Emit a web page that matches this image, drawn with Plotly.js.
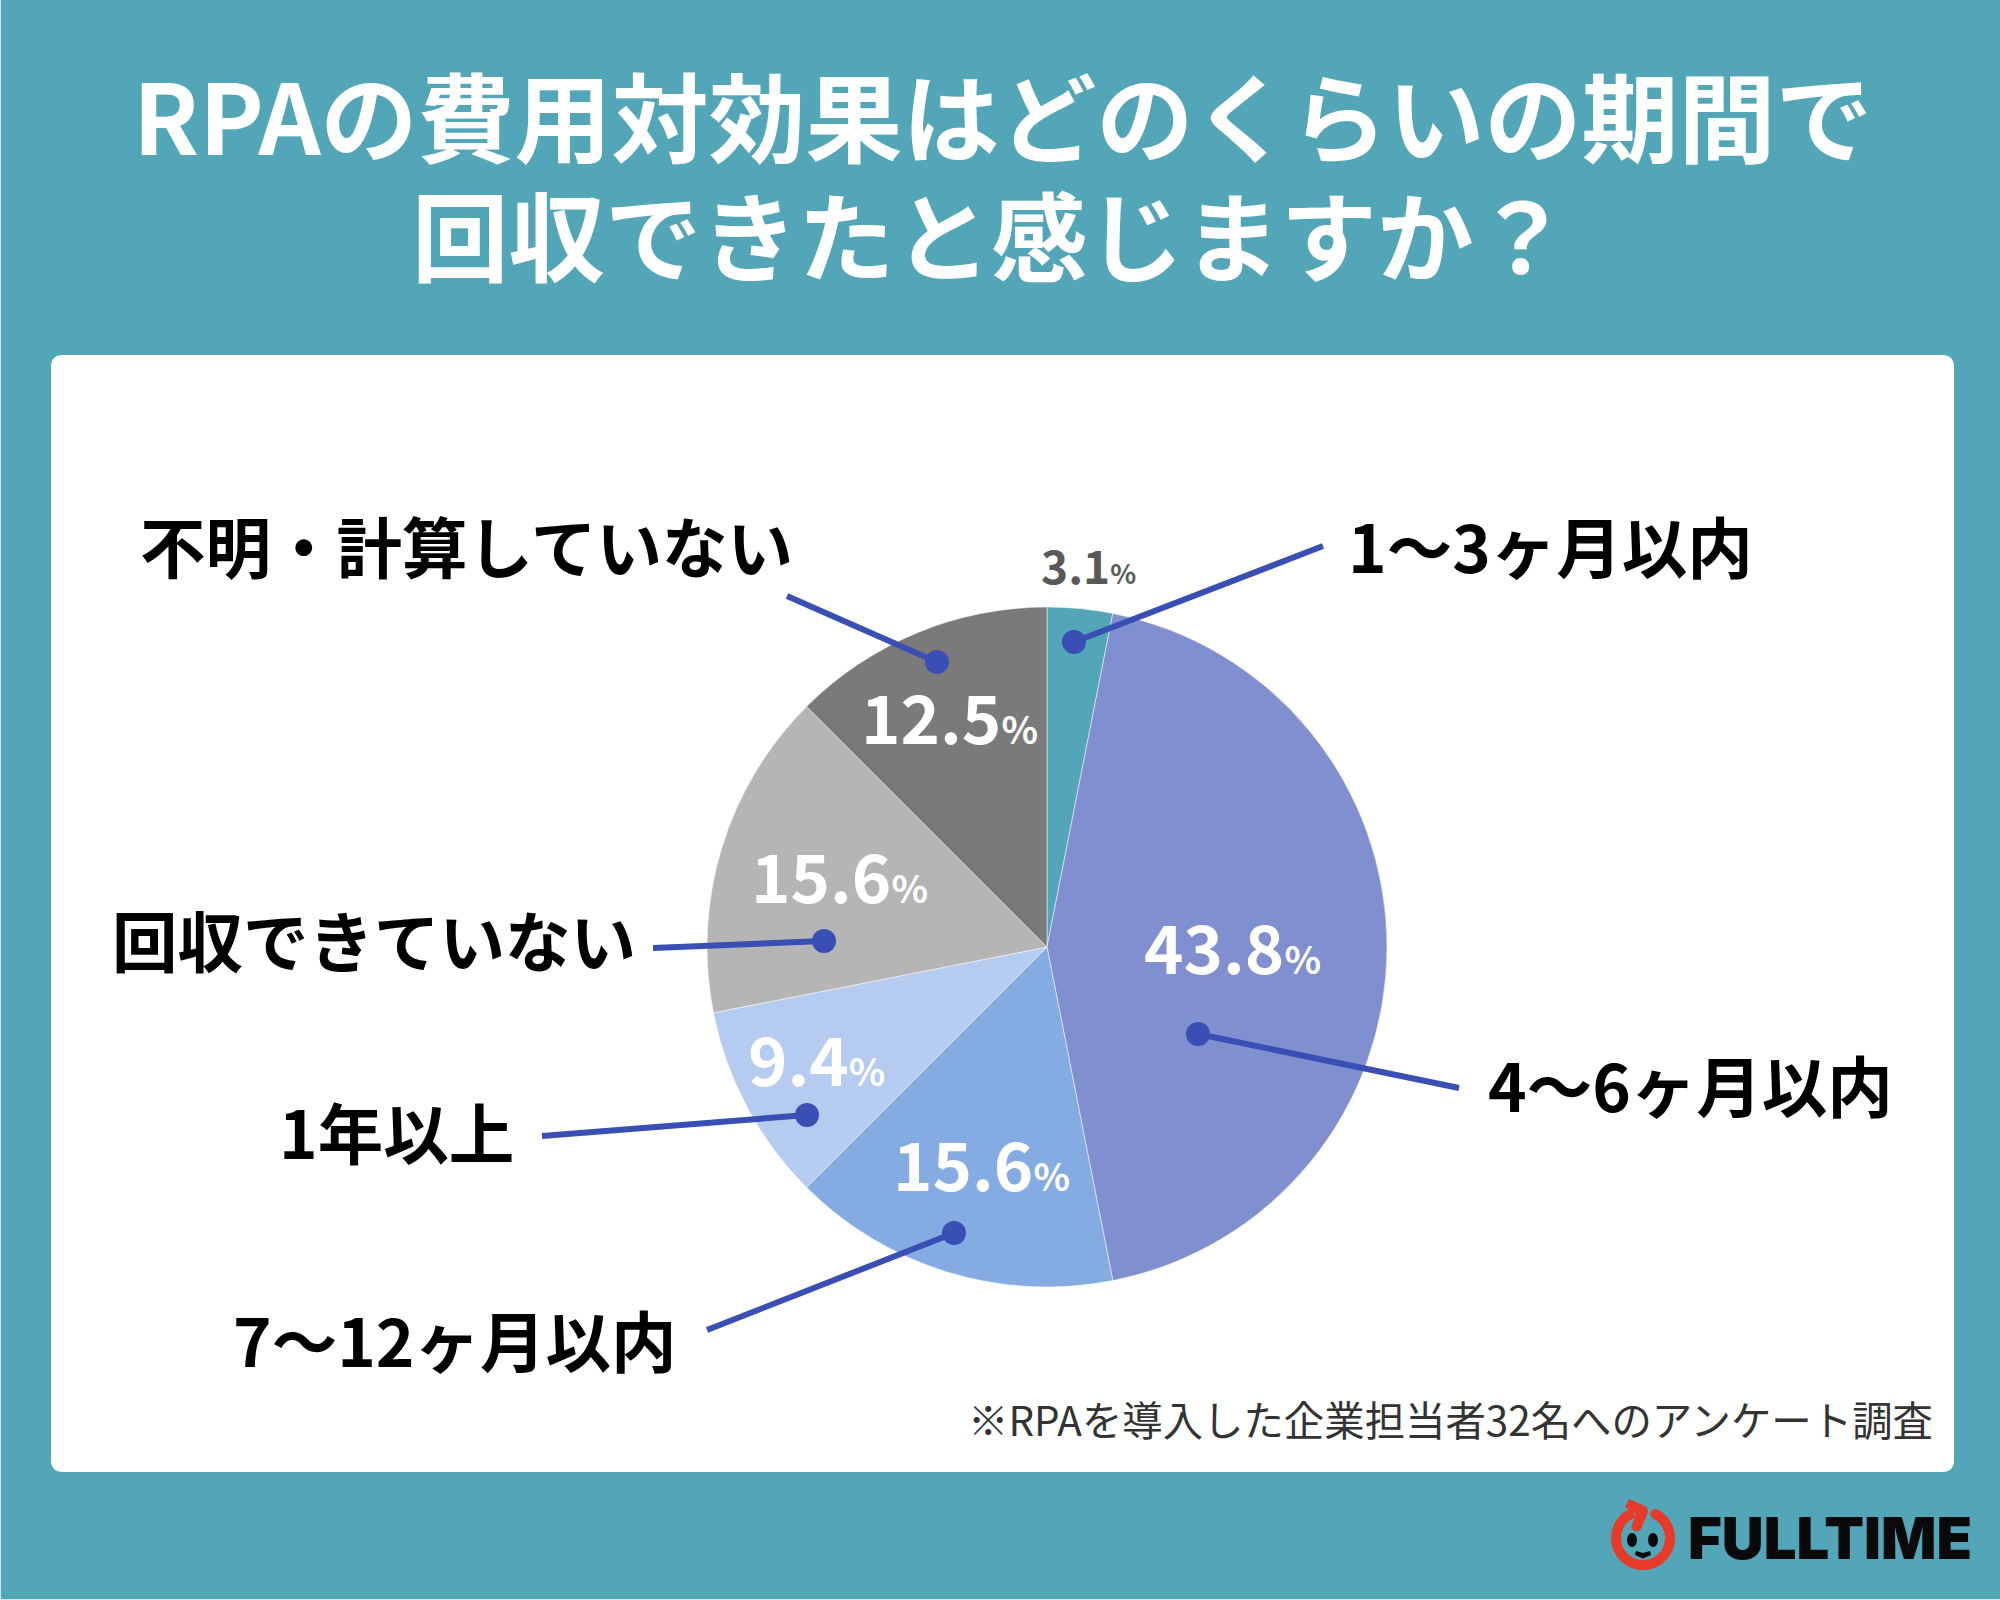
<!DOCTYPE html>
<html><head><meta charset="utf-8">
<script src="https://cdn.plot.ly/plotly-3.0.1.min.js"></script>
<style>html,body{margin:0;padding:0;background:#53a5b8}#c{width:2000px;height:1600px}</style>
</head><body><div id="c"></div>
<script>
var categories=['1〜3ヶ月以内','4〜6ヶ月以内','7〜12ヶ月以内','1年以上','回収できていない','不明・計算していない'];
var values=[3.1,43.8,15.6,9.4,15.6,12.5];
var colors=['#53a5b8','#7f8fcf','#85abe3','#b5cbef','#b5b5b5','#7a7a7a'];
var pctColors=['#595959','#ffffff','#ffffff','#ffffff','#ffffff','#ffffff'];
var pctPos=[[1088,564,46,27],[1232,944,67,38],[981,1161,67,38],[816,1056,67,38],[839,873,67,38],[949,714,67,38]];
var labelPos=[[1550,545],[1690,1083],[454,1338],[396,1130],[374,938],[466,545]];
var dots=[[1074,642],[1198,1034],[954,1233],[807,1115],[824,941],[937,662]];
var ends=[[1323,546],[1459,1088],[707,1330],[542,1136],[653,948],[787,596]];
var titleLines=['RPAの費用対効果はどのくらいの期間で','回収できたと感じますか？'];
var note='※RPAを導入した企業担当者32名へのアンケート調査';

var W=2000,H=1600,JP='"Noto Sans CJK JP"';
function fx(x){return x/W} function fy(y){return 1-y/H}
function path(pts,close){return pts.map(function(p,i){return (i?'L':'M')+fx(p[0]).toFixed(5)+','+fy(p[1]).toFixed(5)}).join('')+(close?'Z':'')}
function ann(x,y,t,size,color,weight,font){return {xref:'paper',yref:'paper',x:fx(x),y:fy(y),text:t,showarrow:false,xanchor:'center',yanchor:'middle',
  font:{family:font||JP,size:size,color:color,weight:weight||700},align:'center'}}
function circle(cx,cy,rx,ry,c){return {type:'circle',xref:'paper',yref:'paper',x0:fx(cx-rx),x1:fx(cx+rx),y0:fy(cy+ry),y1:fy(cy-ry),fillcolor:c,line:{width:0},layer:'above'}}
function rrect(x0,y0,x1,y1,r){var q=function(a,b){return fx(a).toFixed(5)+','+fy(b).toFixed(5)};
  return 'M'+q(x0+r,y0)+'L'+q(x1-r,y0)+'Q'+q(x1,y0)+' '+q(x1,y0+r)+'L'+q(x1,y1-r)+'Q'+q(x1,y1)+' '+q(x1-r,y1)+'L'+q(x0+r,y1)+'Q'+q(x0,y1)+' '+q(x0,y1-r)+'L'+q(x0,y0+r)+'Q'+q(x0,y0)+' '+q(x0+r,y0)+'Z'}
function ring(cx,cy,ro,ri,a0,a1){var p=[],i,n=60,a;for(i=0;i<=n;i++){a=(a0+(a1-a0)*i/n)*Math.PI/180;p.push([cx+ro*Math.sin(a),cy-ro*Math.cos(a)])}
  for(i=n;i>=0;i--){a=(a0+(a1-a0)*i/n)*Math.PI/180;p.push([cx+ri*Math.sin(a),cy-ri*Math.cos(a)])}return p}

var shapes=[{type:'path',xref:'paper',yref:'paper',path:rrect(51,355,1954,1472,12),fillcolor:'#ffffff',line:{width:0},layer:'below'}];
dots.forEach(function(d,i){
  shapes.push({type:'line',xref:'paper',yref:'paper',x0:fx(d[0]),y0:fy(d[1]),x1:fx(ends[i][0]),y1:fy(ends[i][1]),line:{color:'#3a4fb4',width:6},layer:'above'});
  shapes.push(circle(d[0],d[1],12,12,'#3a4fb4'));
});
// logo
var red='#e83a28',ink='#0a0a0a',lcx=1643,lcy=1538;
shapes.push({type:'path',xref:'paper',yref:'paper',path:path(ring(lcx,lcy,32,22,27,340),true),fillcolor:red,line:{width:0},layer:'above'});
shapes.push(circle(lcx+27*Math.sin(27*Math.PI/180),lcy-27*Math.cos(27*Math.PI/180),5,5,red));
shapes.push({type:'path',xref:'paper',yref:'paper',path:path([[1625,1507],[1629,1499],[1647,1507],[1648,1512],[1641,1529],[1632,1524],[1636,1514]],true),fillcolor:red,line:{width:0},layer:'above'});
shapes.push(circle(1636.5,1526.5,5,5,red));
shapes.push(circle(1632,1540,5,7,ink));
shapes.push(circle(1653,1540,5,7,ink));
shapes.push({type:'path',xref:'paper',yref:'paper',path:path([[1636,1551],[1643,1553],[1650,1551],[1651,1555],[1643,1558.5],[1635,1555]],true),fillcolor:ink,line:{width:0},layer:'above'});
// scan edge of the picture
shapes.push({type:'rect',xref:'paper',yref:'paper',x0:0,x1:fx(1),y0:0,y1:1,fillcolor:'#cfe6ec',line:{width:0},layer:'above'});
shapes.push({type:'rect',xref:'paper',yref:'paper',x0:0,x1:1,y0:0,y1:1/H,fillcolor:'#cfe6ec',line:{width:0},layer:'above'});

var anns=[];
titleLines.forEach(function(t,i){anns.push(ann(i?991:1003,i?232:112,t,i?96.5:97,'#ffffff',700))});
values.forEach(function(v,i){
  var p=pctPos[i];
  anns.push(ann(p[0],p[1],v.toFixed(1)+'<span style="font-size:'+p[3]+'px">%</span>',p[2],pctColors[i],700));
  anns.push(ann(labelPos[i][0],labelPos[i][1],categories[i],65.5,'#000000',700));
});
anns.push(ann(1450.5,1418,note,40.4,'#333333',400));
anns.push(ann(1830,1538,'FULLTIME',58,ink,900,'Inter'));

var cx=1047,cy=947,R=340;
Plotly.newPlot('c',[{type:'pie',labels:categories,values:values,sort:false,direction:'clockwise',rotation:0,
  marker:{colors:colors,line:{color:'#ffffff',width:0.5}},textinfo:'none',hoverinfo:'none',showlegend:false,
  domain:{x:[(cx-R)/W,(cx+R)/W],y:[1-(cy+R)/H,1-(cy-R)/H]}}],
 {width:W,height:H,margin:{l:0,r:0,t:0,b:0},paper_bgcolor:'#53a5b8',plot_bgcolor:'#53a5b8',showlegend:false,shapes:shapes,annotations:anns},
 {displayModeBar:false,staticPlot:true});
</script></body></html>
